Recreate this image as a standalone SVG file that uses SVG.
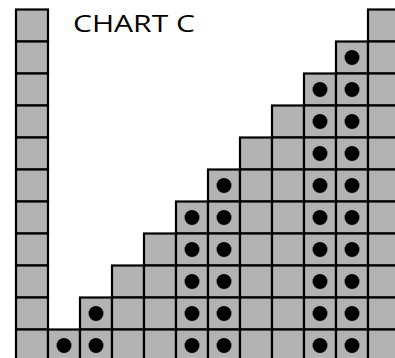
<svg xmlns="http://www.w3.org/2000/svg" width="395" height="358" viewBox="0 0 395 358">
<style>
.c{fill:#b3b3b3;stroke:#000;stroke-width:2.2}
.d{fill:#000}
.t{font-family:"Open Sans","DejaVu Sans",sans-serif;font-size:24px;fill:#000}
</style>
<rect width="395" height="358" fill="#fff"/>
<g id="col0">
<rect class="c" x="16" y="9.5" width="32" height="32"/><rect class="c" x="16" y="41.5" width="32" height="32"/><rect class="c" x="16" y="73.5" width="32" height="32"/><rect class="c" x="16" y="105.5" width="32" height="32"/><rect class="c" x="16" y="137.5" width="32" height="32"/><rect class="c" x="16" y="169.5" width="32" height="32"/><rect class="c" x="16" y="201.5" width="32" height="32"/><rect class="c" x="16" y="233.5" width="32" height="32"/><rect class="c" x="16" y="265.5" width="32" height="32"/><rect class="c" x="16" y="297.5" width="32" height="32"/><rect class="c" x="16" y="329.5" width="32" height="32"/>
</g>
<g id="col1">
<rect class="c" x="48" y="329.5" width="32" height="32"/>
<circle class="d" cx="64" cy="345.5" r="7.5"/>
</g>
<g id="col2">
<rect class="c" x="80" y="297.5" width="32" height="32"/><rect class="c" x="80" y="329.5" width="32" height="32"/>
<circle class="d" cx="96" cy="313.5" r="7.5"/><circle class="d" cx="96" cy="345.5" r="7.5"/>
</g>
<g id="col3">
<rect class="c" x="112" y="265.5" width="32" height="32"/><rect class="c" x="112" y="297.5" width="32" height="32"/><rect class="c" x="112" y="329.5" width="32" height="32"/>
</g>
<g id="col4">
<rect class="c" x="144" y="233.5" width="32" height="32"/><rect class="c" x="144" y="265.5" width="32" height="32"/><rect class="c" x="144" y="297.5" width="32" height="32"/><rect class="c" x="144" y="329.5" width="32" height="32"/>
</g>
<g id="col5">
<rect class="c" x="176" y="201.5" width="32" height="32"/><rect class="c" x="176" y="233.5" width="32" height="32"/><rect class="c" x="176" y="265.5" width="32" height="32"/><rect class="c" x="176" y="297.5" width="32" height="32"/><rect class="c" x="176" y="329.5" width="32" height="32"/>
<circle class="d" cx="192" cy="217.5" r="7.5"/><circle class="d" cx="192" cy="249.5" r="7.5"/><circle class="d" cx="192" cy="281.5" r="7.5"/><circle class="d" cx="192" cy="313.5" r="7.5"/><circle class="d" cx="192" cy="345.5" r="7.5"/>
</g>
<g id="col6">
<rect class="c" x="208" y="169.5" width="32" height="32"/><rect class="c" x="208" y="201.5" width="32" height="32"/><rect class="c" x="208" y="233.5" width="32" height="32"/><rect class="c" x="208" y="265.5" width="32" height="32"/><rect class="c" x="208" y="297.5" width="32" height="32"/><rect class="c" x="208" y="329.5" width="32" height="32"/>
<circle class="d" cx="224" cy="185.5" r="7.5"/><circle class="d" cx="224" cy="217.5" r="7.5"/><circle class="d" cx="224" cy="249.5" r="7.5"/><circle class="d" cx="224" cy="281.5" r="7.5"/><circle class="d" cx="224" cy="313.5" r="7.5"/><circle class="d" cx="224" cy="345.5" r="7.5"/>
</g>
<g id="col7">
<rect class="c" x="240" y="137.5" width="32" height="32"/><rect class="c" x="240" y="169.5" width="32" height="32"/><rect class="c" x="240" y="201.5" width="32" height="32"/><rect class="c" x="240" y="233.5" width="32" height="32"/><rect class="c" x="240" y="265.5" width="32" height="32"/><rect class="c" x="240" y="297.5" width="32" height="32"/><rect class="c" x="240" y="329.5" width="32" height="32"/>
</g>
<g id="col8">
<rect class="c" x="272" y="105.5" width="32" height="32"/><rect class="c" x="272" y="137.5" width="32" height="32"/><rect class="c" x="272" y="169.5" width="32" height="32"/><rect class="c" x="272" y="201.5" width="32" height="32"/><rect class="c" x="272" y="233.5" width="32" height="32"/><rect class="c" x="272" y="265.5" width="32" height="32"/><rect class="c" x="272" y="297.5" width="32" height="32"/><rect class="c" x="272" y="329.5" width="32" height="32"/>
</g>
<g id="col9">
<rect class="c" x="304" y="73.5" width="32" height="32"/><rect class="c" x="304" y="105.5" width="32" height="32"/><rect class="c" x="304" y="137.5" width="32" height="32"/><rect class="c" x="304" y="169.5" width="32" height="32"/><rect class="c" x="304" y="201.5" width="32" height="32"/><rect class="c" x="304" y="233.5" width="32" height="32"/><rect class="c" x="304" y="265.5" width="32" height="32"/><rect class="c" x="304" y="297.5" width="32" height="32"/><rect class="c" x="304" y="329.5" width="32" height="32"/>
<circle class="d" cx="320" cy="89.5" r="7.5"/><circle class="d" cx="320" cy="121.5" r="7.5"/><circle class="d" cx="320" cy="153.5" r="7.5"/><circle class="d" cx="320" cy="185.5" r="7.5"/><circle class="d" cx="320" cy="217.5" r="7.5"/><circle class="d" cx="320" cy="249.5" r="7.5"/><circle class="d" cx="320" cy="281.5" r="7.5"/><circle class="d" cx="320" cy="313.5" r="7.5"/><circle class="d" cx="320" cy="345.5" r="7.5"/>
</g>
<g id="col10">
<rect class="c" x="336" y="41.5" width="32" height="32"/><rect class="c" x="336" y="73.5" width="32" height="32"/><rect class="c" x="336" y="105.5" width="32" height="32"/><rect class="c" x="336" y="137.5" width="32" height="32"/><rect class="c" x="336" y="169.5" width="32" height="32"/><rect class="c" x="336" y="201.5" width="32" height="32"/><rect class="c" x="336" y="233.5" width="32" height="32"/><rect class="c" x="336" y="265.5" width="32" height="32"/><rect class="c" x="336" y="297.5" width="32" height="32"/><rect class="c" x="336" y="329.5" width="32" height="32"/>
<circle class="d" cx="352" cy="57.5" r="7.5"/><circle class="d" cx="352" cy="89.5" r="7.5"/><circle class="d" cx="352" cy="121.5" r="7.5"/><circle class="d" cx="352" cy="153.5" r="7.5"/><circle class="d" cx="352" cy="185.5" r="7.5"/><circle class="d" cx="352" cy="217.5" r="7.5"/><circle class="d" cx="352" cy="249.5" r="7.5"/><circle class="d" cx="352" cy="281.5" r="7.5"/><circle class="d" cx="352" cy="313.5" r="7.5"/><circle class="d" cx="352" cy="345.5" r="7.5"/>
</g>
<g id="col11">
<rect class="c" x="368" y="9.5" width="32" height="32"/><rect class="c" x="368" y="41.5" width="32" height="32"/><rect class="c" x="368" y="73.5" width="32" height="32"/><rect class="c" x="368" y="105.5" width="32" height="32"/><rect class="c" x="368" y="137.5" width="32" height="32"/><rect class="c" x="368" y="169.5" width="32" height="32"/><rect class="c" x="368" y="201.5" width="32" height="32"/><rect class="c" x="368" y="233.5" width="32" height="32"/><rect class="c" x="368" y="265.5" width="32" height="32"/><rect class="c" x="368" y="297.5" width="32" height="32"/><rect class="c" x="368" y="329.5" width="32" height="32"/>
</g>
<g id="title">
<text class="t" x="73" y="31.7" textLength="122" lengthAdjust="spacingAndGlyphs">CHART C</text>
</g>
</svg>
